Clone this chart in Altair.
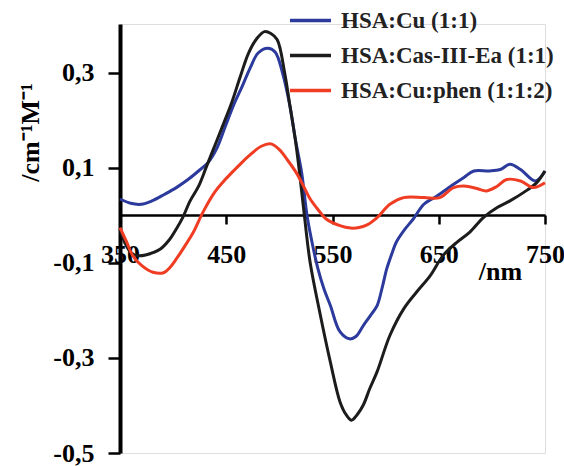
import altair as alt
import pandas as pd

# ---- data ----
series_names = ["HSA:Cu (1:1)", "HSA:Cas-III-Ea (1:1)", "HSA:Cu:phen (1:1:2)"]
series_colors = ["#2b3a9c", "#1c1c1c", "#f03c22"]

cu_wl = [350, 360, 370, 380, 392, 403, 414, 425, 433, 441, 449, 457, 465, 473, 480,
         489, 496, 503, 510, 515, 521, 526, 531, 536, 542, 548, 557, 566, 572, 579,
         586, 592, 597, 601, 606, 610, 618, 626, 636, 648, 664, 674, 683, 698, 708,
         717, 727, 741, 750]
cu_cd = [0.034, 0.025, 0.023, 0.030, 0.044, 0.058, 0.075, 0.095, 0.111, 0.140, 0.186,
         0.232, 0.271, 0.312, 0.341, 0.351, 0.343, 0.299, 0.229, 0.160, 0.089, 0.0,
         -0.060, -0.110, -0.155, -0.190, -0.245, -0.260, -0.255, -0.232, -0.210, -0.190,
         -0.150, -0.113, -0.080, -0.057, -0.030, -0.008, 0.023, 0.040, 0.065, 0.080,
         0.093, 0.093, 0.096, 0.107, 0.096, 0.072, 0.093]

cas_wl = [350, 355, 360, 366, 375, 388, 397, 403, 409, 416, 424, 431, 439, 447, 455,
          463, 471, 479, 486, 492, 498, 505, 510, 515, 519, 523.5, 529, 538, 548, 557,
          563, 568, 573, 579, 585, 592, 604, 617, 629, 642, 654, 667, 679, 692, 705,
          717, 730, 742, 750]
cas_cd = [-0.029, -0.060, -0.078, -0.085, -0.083, -0.071, -0.050, -0.029, -0.005, 0.030,
          0.061, 0.100, 0.145, 0.190, 0.236, 0.290, 0.341, 0.372, 0.386, 0.382, 0.369,
          0.299, 0.229, 0.159, 0.089, 0.0, -0.100, -0.204, -0.309, -0.392, -0.420, -0.431,
          -0.420, -0.399, -0.365, -0.329, -0.253, -0.197, -0.162, -0.127, -0.085, -0.057,
          -0.036, -0.005, 0.016, 0.030, 0.048, 0.068, 0.093]

phen_wl = [350, 356, 362, 370, 381, 391, 397, 403, 411, 419, 428, 439, 447, 455, 463,
           471, 483, 492, 500, 508, 516, 523, 529, 537, 544, 557, 567, 575, 582, 592,
           604, 617, 636, 651, 664, 676, 686, 695, 705, 714, 727, 739, 750]
phen_cd = [-0.026, -0.055, -0.085, -0.105, -0.120, -0.121, -0.110, -0.092, -0.065, -0.036,
           0.006, 0.048, 0.070, 0.089, 0.107, 0.124, 0.145, 0.150, 0.138, 0.115, 0.089,
           0.060, 0.034, 0.010, -0.008, -0.022, -0.027, -0.026, -0.021, -0.005, 0.023,
           0.037, 0.037, 0.037, 0.058, 0.061, 0.056, 0.051, 0.061, 0.075, 0.072, 0.058,
           0.068]

x_ticks = [350, 450, 550, 650, 750]
y_ticks = [-0.5, -0.3, -0.1, 0.1, 0.3]
x_domain = [350, 750]
y_domain = [-0.5, 0.402]

rows = []
for idx, (name, wl, cd) in enumerate(zip(series_names, [cu_wl, cas_wl, phen_wl],
                                         [cu_cd, cas_cd, phen_cd])):
    for w, c in zip(wl, cd):
        rows.append({"series": name, "order": idx, "wl": w, "cd": c})
df = pd.DataFrame(rows)

FONT = "Liberation Serif"

lines = alt.Chart(df).mark_line(strokeWidth=3, interpolate="catmull-rom").encode(
    x=alt.X(
        "wl:Q",
        scale=alt.Scale(domain=x_domain, nice=False, zero=False),
        axis=alt.Axis(
            values=x_ticks, offset=-238, grid=False,
            domainColor="black", domainWidth=2.5,
            tickColor="black", tickWidth=2.5, tickSize=9,
            labelFont=FONT, labelFontSize=26, labelFontWeight="bold", labelColor="black",
            labelPadding=17, labelFlush=False, labelOverlap=False,
            title="/nm", titleFont=FONT, titleFontSize=26, titleFontWeight="bold",
            titleColor="black", titleX=380, titleY=64, titleAlign="center",
            titleBaseline="alphabetic",
        ),
    ),
    y=alt.Y(
        "cd:Q",
        scale=alt.Scale(domain=y_domain, nice=False, zero=False),
        axis=alt.Axis(
            values=y_ticks, grid=False,
            labelExpr="(datum.value < 0 ? '-' : '') + replace(format(abs(datum.value), '.1f'), '.', ',')",
            domainColor="black", domainWidth=4,
            tickColor="black", tickWidth=2.5, tickSize=12,
            labelFont=FONT, labelFontSize=26, labelFontWeight="bold", labelColor="black",
            labelPadding=14, labelOverlap=False,
            title="/cm\u207b\u00b9M\u207b\u00b9", titleFont=FONT, titleFontSize=26,
            titleFontWeight="bold", titleColor="black", titleAngle=270,
            titleX=-82, titleY=108, titleAlign="center", titleBaseline="alphabetic",
        ),
    ),
    color=alt.Color(
        "series:N",
        scale=alt.Scale(domain=series_names, range=series_colors),
        legend=alt.Legend(
            orient="none", legendX=168, legendY=-26, title=None,
            symbolType="stroke", symbolSize=1681, symbolStrokeWidth=3.5,
            labelFont=FONT, labelFontSize=23, labelFontWeight="bold", labelColor="#222222",
            labelOffset=8, rowPadding=0, padding=0, labelLimit=400,
        ),
    ),
    order=alt.Order("order:Q"),
).properties(
    width=425, height=429,
    autosize=alt.AutoSizeParams(type="none"),
    padding={"left": 120, "top": 24, "right": 19, "bottom": 13},
).configure_view(stroke=None).configure(background="white")

lines.save("out.html", embed_options={"renderer": "svg", "actions": False})
